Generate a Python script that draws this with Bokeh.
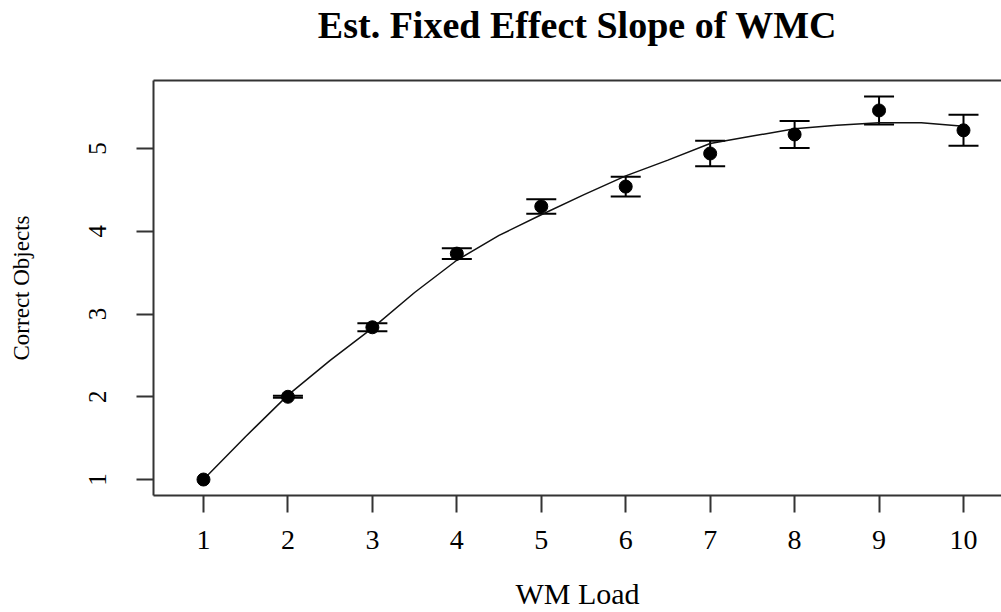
from bokeh.plotting import figure
from bokeh.models import (Range1d, FixedTicker, LinearAxis, Whisker, TeeHead,
                          ColumnDataSource, Title)
from bokeh.embed import file_html
from bokeh.resources import INLINE

# Mean correct objects per working-memory load, with standard errors
wm_load = [1, 2, 3, 4, 5, 6, 7, 8, 9, 10]
correct = [1.00, 2.00, 2.84, 3.73, 4.30, 4.54, 4.94, 5.17, 5.46, 5.22]
std_err = [0.0, 0.012, 0.048, 0.065, 0.087, 0.12, 0.153, 0.163, 0.17, 0.187]

# Fitted fixed-effect curve
fit_load = [1, 1.5, 2, 2.5, 3, 3.5, 4, 4.5, 5, 5.5, 6, 6.5, 7, 7.5, 8, 8.5, 9, 9.5, 10]
fit_value = [1.00, 1.52, 2.02, 2.44, 2.83, 3.26, 3.65, 3.95, 4.20, 4.44, 4.67, 4.86,
             5.06, 5.15, 5.24, 5.28, 5.31, 5.31, 5.27]

y_ticks = [1, 2, 3, 4, 5]
title_text = "Est. Fixed Effect Slope of WMC"

SERIF = "Liberation Serif"
INK = "#000000"
FRAME = "#333333"

p = figure(width=1001, height=612,
           x_range=Range1d(0.408, 10.45), y_range=Range1d(0.807, 5.822),
           output_backend="svg", toolbar_location=None,
           min_border_left=153, min_border_right=0,
           min_border_top=80, min_border_bottom=117)
p.grid.visible = False
p.outline_line_color = None
p.background_fill_color = "white"
p.border_fill_color = "white"

xa = p.xaxis[0]
xa.ticker = FixedTicker(ticks=wm_load)
xa.axis_label = "WM Load"
ya = p.yaxis[0]
ya.ticker = FixedTicker(ticks=y_ticks)
ya.axis_label = "Correct Objects"
ya.major_label_orientation = "vertical"

for ax in (xa, ya):
    ax.axis_line_color = FRAME
    ax.axis_line_width = 2
    ax.major_tick_line_color = FRAME
    ax.major_tick_line_width = 2
    ax.major_tick_in = 0
    ax.major_tick_out = 17
    ax.minor_tick_line_color = None
    ax.major_label_text_font = SERIF
    ax.major_label_text_color = INK
    ax.axis_label_text_font = SERIF
    ax.axis_label_text_font_style = "normal"
    ax.axis_label_text_color = INK

xa.major_label_text_font_size = "28px"
xa.major_label_standoff = 18
xa.axis_label_text_font_size = "30px"
xa.axis_label_standoff = 25

ya.major_label_text_font_size = "25px"
ya.major_label_standoff = 30
ya.axis_label_text_font_size = "23px"
ya.axis_label_standoff = 53

# top edge of the box
top = LinearAxis(ticker=FixedTicker(ticks=[]), axis_line_color=FRAME, axis_line_width=2,
                 major_tick_out=0, major_tick_in=0, minor_tick_out=0, minor_tick_in=0,
                 major_label_text_font_size="0px")
p.add_layout(top, "above")

# blank gap between the box and the heading
gap = Title(text=" ", text_font_size="1px", standoff=32)
p.add_layout(gap, "above")

# heading
p.title.text = title_text
p.title.align = "center"
p.title.offset = 0
p.title.standoff = 0
p.title.text_font = SERIF
p.title.text_font_style = "bold"
p.title.text_font_size = "38px"
p.title.text_color = INK

# fitted curve
p.line(fit_load, fit_value, line_color="#111111", line_width=1.5)

# error bars (skip zero-width ones)
eb_x = [x for x, s in zip(wm_load, std_err) if s > 0]
eb_lo = [m - s for m, s in zip(correct, std_err) if s > 0]
eb_hi = [m + s for m, s in zip(correct, std_err) if s > 0]
eb_src = ColumnDataSource(dict(x=eb_x, lower=eb_lo, upper=eb_hi))
whisk = Whisker(source=eb_src, base="x", lower="lower", upper="upper",
                dimension="height", line_color=INK, line_width=2,
                upper_head=TeeHead(size=30, line_color=INK, line_width=2),
                lower_head=TeeHead(size=30, line_color=INK, line_width=2))
p.add_layout(whisk)

# means
p.scatter(wm_load, correct, size=13, marker="circle", fill_color=INK, line_color=INK)

open("out.html", "w").write(file_html(p, INLINE))
